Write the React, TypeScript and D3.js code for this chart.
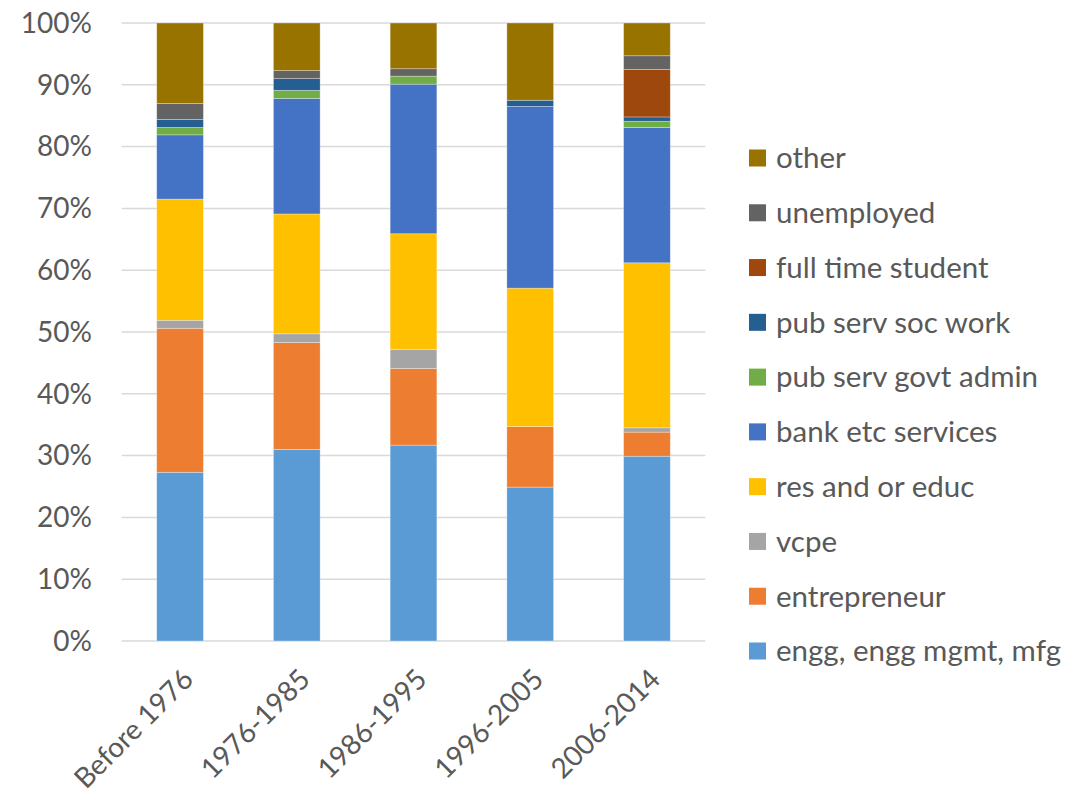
import React, { useEffect } from "react";
import * as d3 from "d3";

const categories = ["Before 1976", "1976-1985", "1986-1995", "1996-2005", "2006-2014"];
const seriesNames = [
  "engg, engg mgmt, mfg",
  "entrepreneur",
  "vcpe",
  "res and or educ",
  "bank etc services",
  "pub serv govt admin",
  "pub serv soc work",
  "full time student",
  "unemployed",
  "other",
];
const engg = [27.3, 31.0, 31.7, 24.9, 29.9];
const entrepreneur = [23.3, 17.3, 12.4, 9.8, 3.9];
const vcpe = [1.3, 1.4, 3.1, 0, 0.7];
const resEduc = [19.6, 19.4, 18.7, 22.4, 26.7];
const bank = [10.4, 18.7, 24.2, 29.4, 21.9];
const govtAdmin = [1.2, 1.3, 1.3, 0, 1.0];
const socWork = [1.3, 1.9, 0, 1.0, 0.7];
const student = [0, 0, 0, 0, 7.7];
const unemployed = [2.6, 1.3, 1.2, 0, 2.2];
const other = [13.0, 7.7, 7.4, 12.5, 5.3];
const seriesValues = [engg, entrepreneur, vcpe, resEduc, bank, govtAdmin, socWork, student, unemployed, other];
const colors = ["#5B9BD5", "#ED7D31", "#A5A5A5", "#FFC000", "#4472C4", "#70AD47", "#255E91", "#9E480E", "#636363", "#997300"];
const yTicks = [0, 10, 20, 30, 40, 50, 60, 70, 80, 90, 100];

const W = 1089;
const H = 795;
const FONT = "Lato, 'Open Sans', sans-serif";
const TEXT = "#595959";

export default function App() {
  useEffect(() => {
    document.body.style.margin = "0";
  }, []);

  const x = d3.scaleBand<string>().domain(categories).range([121.7, 705.3]).paddingInner(0.6).paddingOuter(0.3);
  const y = d3.scaleLinear().domain([0, 100]).range([641, 23]);

  const rows = categories.map((c, i) => {
    const r: Record<string, any> = { cat: c };
    seriesNames.forEach((s, j) => (r[s] = seriesValues[j][i]));
    return r;
  });
  const stacked = d3.stack<any>().keys(seriesNames)(rows);

  const legendY = d3.scalePoint<string>().domain([...seriesNames].reverse()).range([158, 651]);

  return (
    <svg width={W} height={H} style={{ display: "block", background: "#fff" }} fontFamily={FONT}>
      {yTicks.map((t) => (
        <g key={t}>
          <line x1={121.7} x2={705.3} y1={y(t)} y2={y(t)} stroke="#D9D9D9" strokeWidth={1.5} />
          <text x={92} y={y(t)} dy="0.35em" textAnchor="end" fontSize={28} fill={TEXT}>
            {t}%
          </text>
        </g>
      ))}
      {stacked.map((layer, j) => (
        <g key={layer.key} fill={colors[j]}>
          {layer.map((d, i) =>
            d[1] - d[0] > 0 ? (
              <rect
                key={i}
                x={x(categories[i])}
                width={x.bandwidth()}
                y={y(d[1])}
                height={y(d[0]) - y(d[1])}
                stroke="#ffffff"
                strokeOpacity={0.4}
                strokeWidth={0.75}
              />
            ) : null
          )}
        </g>
      ))}
      {categories.map((c) => (
        <text
          key={c}
          transform={`translate(${(x(c) as number) + x.bandwidth() / 2 + 15},${681}) rotate(-45)`}
          textAnchor="end"
          fontSize={28}
          fill={TEXT}
        >
          {c}
        </text>
      ))}
      {seriesNames.map((s, j) => (
        <g key={s} transform={`translate(749,${legendY(s)})`}>
          <rect x={0} y={-8.5} width={17} height={17} fill={colors[j]} />
          <text x={27} dy="0.35em" fontSize={29.5} fill={TEXT}>
            {s}
          </text>
        </g>
      ))}
    </svg>
  );
}
